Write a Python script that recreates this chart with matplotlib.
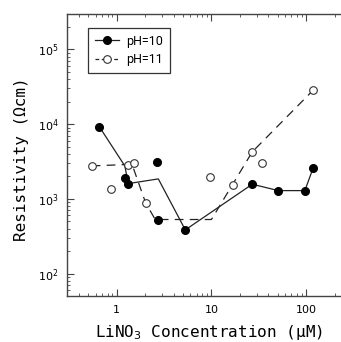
import matplotlib
matplotlib.use("Agg")
import matplotlib.pyplot as plt
from matplotlib.lines import Line2D
from matplotlib.ticker import LogLocator, FixedLocator, FixedFormatter, NullFormatter

# data
ph10_x = [0.656, 1.22, 1.32, 2.64, 2.73, 5.3, 27, 51, 97, 119]
ph10_y = [9200, 1930, 1590, 3130, 519, 385, 1570, 1290, 1290, 2620]
ph11_x = [0.544, 0.877, 1.33, 1.53, 2.02, 9.67, 17, 27, 34.5, 119]
ph11_y = [2760, 1360, 2850, 3030, 885, 1950, 1540, 4250, 3000, 28500]

# guide lines (hand-drawn trend lines)
trend10_x = [0.656, 1.22, 1.32, 2.75, 5.3, 27, 51, 97, 119]
trend10_y = [9200, 2750, 1600, 1850, 385, 1570, 1290, 1290, 2620]
trend11_x = [0.544, 1.45, 2.02, 2.55, 10, 27, 119]
trend11_y = [2760, 2900, 885, 530, 530, 4250, 28500]

xticks = [1, 10, 100]
xticklabels = ["1", "10", "100"]
yticks = [1e2, 1e3, 1e4, 1e5]
yticklabels = [r"$10^2$", r"$10^3$", r"$10^4$", r"$10^5$"]

plt.rcParams['font.family'] = ['DejaVu Sans', 'Noto Sans CJK JP']
plt.rcParams['mathtext.fontset'] = 'dejavusans'

W, H = 341, 342
fig = plt.figure(figsize=(W / 100, H / 100), dpi=100)
ax = fig.add_axes([67.2 / W, (H - 296.2) / H, 276.6 / W, 282.6 / H])
ax.set_xscale('log')
ax.set_yscale('log')
ax.set_xlim(0.3, 250)
ax.set_ylim(50, 3e5)

ax.plot(trend10_x, trend10_y, '-', color='#222222', lw=0.9)
ax.plot(trend11_x, trend11_y, color='#222222', lw=0.9, ls=(0, (7, 5)))
ax.plot(ph10_x, ph10_y, 'o', ms=5.5, mfc='black', mec='black', ls='none')
ax.plot(ph11_x, ph11_y, 'o', ms=5.5, mfc='white', mec='#333333', mew=0.8, ls='none')

for sp in ax.spines.values():
    sp.set_linewidth(1.0)
    sp.set_color('#444444')
ax.spines['right'].set_visible(False)

ax.xaxis.set_major_locator(FixedLocator(xticks))
ax.xaxis.set_major_formatter(FixedFormatter(xticklabels))
ax.yaxis.set_major_locator(FixedLocator(yticks))
ax.yaxis.set_major_formatter(FixedFormatter(yticklabels))
ax.xaxis.set_minor_locator(LogLocator(base=10, subs=range(2, 10), numticks=20))
ax.yaxis.set_minor_locator(LogLocator(base=10, subs=range(2, 10), numticks=20))
ax.xaxis.set_minor_formatter(NullFormatter())
ax.yaxis.set_minor_formatter(NullFormatter())
ax.tick_params(which='both', direction='in', top=True, right=False, color='#444444')
ax.tick_params(which='major', length=5, width=0.8, labelsize=8, pad=6)
ax.tick_params(which='minor', length=2.5, width=0.6)

ax.set_xlabel("LiNO$_3$ Concentration (μM)", fontsize=11.5,
              family=['DejaVu Sans Mono', 'DejaVu Sans'])
ax.xaxis.set_label_coords(0.513, -0.127)
ax.xaxis.label.set_va('center')
ax.set_ylabel("Resistivity (Ωcm)", fontsize=11.5,
              family=['DejaVu Sans Mono', 'DejaVu Sans'])
ax.yaxis.set_label_coords(-0.167, 0.485)
ax.yaxis.label.set_va('center')

handles = [
    Line2D([], [], color='#222222', lw=0.9, marker='o', ms=5.5, mfc='black', mec='black'),
    Line2D([], [], color='#222222', lw=0.9, ls=(0, (3, 2)), marker='o', ms=5.5, mfc='white', mec='#333333', mew=0.8),
]
leg = ax.legend(handles, ["pH=10", "pH=11"], loc='upper left',
                bbox_to_anchor=(0.076, 0.95), borderaxespad=0, fancybox=False,
                framealpha=1, edgecolor='#333333',
                prop={'family': 'Roboto', 'size': 9},
                handlelength=1.9, handletextpad=0.6, borderpad=0.55, labelspacing=0.45)
leg.get_frame().set_linewidth(0.9)

fig.savefig("out.png", dpi=100)
